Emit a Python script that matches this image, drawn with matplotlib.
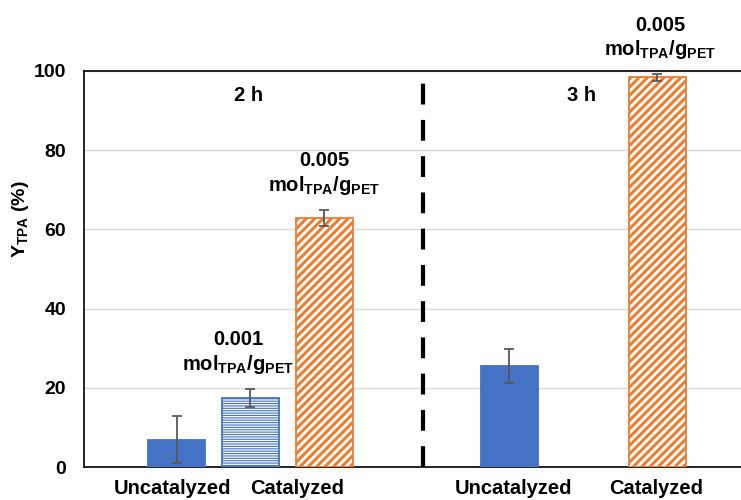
import matplotlib
matplotlib.use("Agg")
import matplotlib.pyplot as plt

plt.rcParams["font.family"] = ["Liberation Sans", "DejaVu Sans"]
plt.rcParams["font.weight"] = "bold"
plt.rcParams["mathtext.fontset"] = "custom"
plt.rcParams["mathtext.rm"] = "Liberation Sans:bold"
plt.rcParams["mathtext.it"] = "Liberation Sans:bold"
plt.rcParams["mathtext.bf"] = "Liberation Sans:bold"

# Data: TPA yield (%) with error bars
bar_names = ["Uncatalyzed 2 h", "Catalyzed 0.001 2 h", "Catalyzed 0.005 2 h",
             "Uncatalyzed 3 h", "Catalyzed 0.005 3 h"]
yields = [6.9, 17.5, 62.9, 25.5, 98.4]
errors = [5.9, 2.3, 2.0, 4.4, 0.8]
catalyst_loadings = ["", "0.001", "0.005", "", "0.005"]
category_labels = ["Uncatalyzed", "Catalyzed", "Uncatalyzed", "Catalyzed"]
time_labels = ["2 h", "3 h"]

# Layout
positions = [0, 1, 2, 4.5, 6.5]
label_positions = [-0.06, 1.63, 4.55, 6.48]
time_label_positions = [0.97, 5.48]
divider_x = 3.33
bar_width = 0.78

BLUE = "#4472C4"
ORANGE = "#ED7D31"
ERR = "#595959"

fig = plt.figure(figsize=(7.41, 5.00), dpi=100)
ax = fig.add_axes([0.1134, 0.066, 0.8866, 0.792])

styles = [
    dict(facecolor=BLUE, edgecolor=BLUE, hatch=None, hlw=1.0),
    dict(facecolor="white", edgecolor=BLUE, hatch="-------", hlw=0.8),
    dict(facecolor="white", edgecolor=ORANGE, hatch="////", hlw=2.2),
    dict(facecolor=BLUE, edgecolor=BLUE, hatch=None, hlw=1.0),
    dict(facecolor="white", edgecolor=ORANGE, hatch="////", hlw=2.2),
]

for x, y, e, st in zip(positions, yields, errors, styles):
    plt.rcParams["hatch.linewidth"] = st["hlw"]
    bars = ax.bar(x, y, width=bar_width, facecolor=st["facecolor"],
                  edgecolor=st["edgecolor"], hatch=st["hatch"],
                  linewidth=1.3, zorder=3)
    for b in bars:
        if hasattr(b, "set_hatch_linewidth"):
            b.set_hatch_linewidth(st["hlw"])
    ax.errorbar(x, y, yerr=e, fmt="none", ecolor=ERR, elinewidth=1.3,
                capsize=3.5, capthick=1.3, zorder=4)

# Catalyst loading annotations
label_dx = [0, -0.17, 0.0, 0, 0.04]
for x, y, e, txt, dx in zip(positions, yields, errors, catalyst_loadings, label_dx):
    if not txt:
        continue
    top = y + e
    ax.text(x + dx, top + 12.4, txt, ha="center", va="center", fontsize=14.5,
            fontweight="bold", clip_on=False, zorder=5)
    ax.text(x + dx, top + 6.2, r"mol$_{\mathrm{TPA}}$/g$_{\mathrm{PET}}$",
            ha="center", va="center", fontsize=14.5, fontweight="bold",
            clip_on=False, zorder=5)

# Reaction time labels
for x, t in zip(time_label_positions, time_labels):
    ax.text(x, 93.9, t, ha="center", va="center", fontsize=14.5, fontweight="bold")

# Divider between reaction times
ax.plot([divider_x, divider_x], [0, 100], color="black", lw=3.0,
        dashes=(5.0, 3.7), zorder=5, solid_capstyle="butt",
        dash_capstyle="butt", clip_on=False)

ax.set_xlim(-1.25, 7.63)
ax.set_ylim(0, 100)
ax.set_yticks([0, 20, 40, 60, 80, 100])
ax.set_xticks(label_positions)
ax.set_xticklabels(category_labels, fontsize=14.5, fontweight="bold")
ax.tick_params(axis="both", length=0)
ax.tick_params(axis="y", pad=13, labelsize=14)
ax.tick_params(axis="x", pad=9)
for lab in ax.get_yticklabels():
    lab.set_fontweight("bold")

ax.grid(axis="y", color="#d9d9d9", lw=1.0, zorder=0)
ax.set_axisbelow(True)

for side in ["left", "bottom", "top"]:
    ax.spines[side].set_color("black")
    ax.spines[side].set_linewidth(1.2)
ax.spines["right"].set_visible(False)

ax.set_ylabel(r"Y$_{\mathrm{TPA}}$ (%)", fontsize=14, fontweight="bold")
ax.yaxis.set_label_coords(-0.080, 0.625)

fig.savefig("out.png", dpi=100)
